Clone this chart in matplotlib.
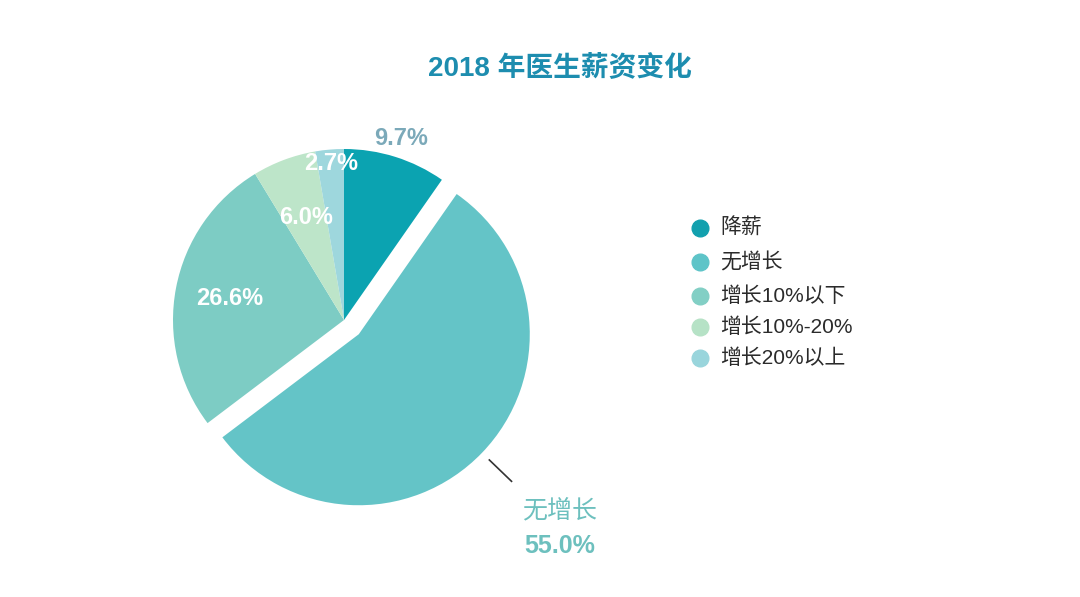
import numpy as np
import matplotlib
matplotlib.use('Agg')
import matplotlib.pyplot as plt
from matplotlib.lines import Line2D

plt.rcParams['font.family'] = ['Liberation Sans', 'Noto Sans CJK SC', 'DejaVu Sans']

# data
labels = ['降薪', '无增长', '增长10%以下', '增长10%-20%', '增长20%以上']
values = [9.7, 55.0, 26.6, 6.0, 2.7]
colors = ['#0BA3B1', '#64C4C7', '#7DCCC4', '#BDE5C9', '#9ED7DD']
legend_colors = ['#12A0AE', '#5EC4C8', '#82CFC5', '#B6E2C6', '#99D5DC']
explode = [0, 0.12, 0, 0, 0]

W, H = 1080, 597
fig = plt.figure(figsize=(W / 100, H / 100), dpi=100)
fig.patch.set_facecolor('white')

# pie axes: center (344, 320) px, radius 171 px
R = 171
cx, cy = 344, 320
half = 230
ax = fig.add_axes([(cx - half) / W, (H - cy - half) / H, 2 * half / W, 2 * half / H])
ax.patch.set_alpha(0)
wedges, _ = ax.pie(values, colors=colors, explode=explode, startangle=90,
                   counterclock=False, radius=1.0,
                   wedgeprops=dict(linewidth=0))
ax.set_xlim(-half / R, half / R)
ax.set_ylim(-half / R, half / R)
ax.set_aspect('equal')
ax.axis('off')

# label placement
total = sum(values)
starts = 90 - 360 * np.cumsum([0] + values[:-1]) / total
mids = starts - 360 * np.array(values) / total / 2
label_r = [1.11, None, 0.68, 0.64, 0.92]
label_col = ['#7BA9B9', None, 'white', 'white', 'white']
for i, v in enumerate(values):
    if label_r[i] is None:
        continue
    a = np.deg2rad(mids[i])
    ax.text(label_r[i] * np.cos(a), label_r[i] * np.sin(a), f'{v:.1f}%',
            ha='center', va='center', fontsize=17, fontweight='bold',
            color=label_col[i])

# exploded slice label with leader line
a = np.deg2rad(mids[1])
ox, oy = explode[1] * np.cos(a), explode[1] * np.sin(a)
ax.plot([ox + 1.06 * np.cos(a), ox + 1.24 * np.cos(a)],
        [oy + 1.06 * np.sin(a), oy + 1.24 * np.sin(a)], color='#333333', lw=1.2)
tx, ty = ox + 1.63 * np.cos(a), oy + 1.63 * np.sin(a)
ax.text(tx, ty + 0.1, labels[1], ha='center', va='center', fontsize=18,
        color='#6DC0BE')
ax.text(tx, ty - 0.11, f'{values[1]:.1f}%', ha='center', va='center',
        fontsize=18, fontweight='bold', color='#6DC0BE')

# title
fig.text(560 / W, 1 - 68 / H, '2018 年医生薪资变化', ha='center', va='center',
         fontsize=20, fontweight='bold', color='#1D8DAF')

# legend
leg_y = [228, 262, 296, 327, 358]
for lab, c, y in zip(labels, legend_colors, leg_y):
    fig.add_artist(Line2D([700 / W], [1 - y / H], marker='o', markersize=12,
                          color=c, linestyle='none'))
    fig.text(720 / W, 1 - y / H, lab, ha='left', va='center', fontsize=15,
             color='#2b2b2b')

fig.savefig('out.png', dpi=100, facecolor='white')
